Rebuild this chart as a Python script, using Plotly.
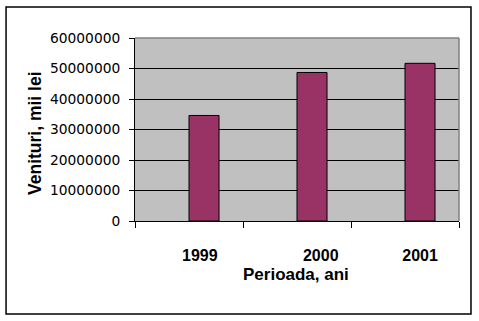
import plotly.graph_objects as go

years = ["1999", "2000", "2001"]
venituri = [34600000, 48700000, 51700000]
y_ticks = [0, 10000000, 20000000, 30000000, 40000000, 50000000, 60000000]

x_pos = list(range(len(years)))
label_shift = [0.10, 0.22, 0.14]
label_pos = [p + s for p, s in zip(x_pos, label_shift)]
boundaries = [p - 0.5 for p in x_pos] + [x_pos[-1] + 0.5]

title_font = dict(family="Liberation Sans", size=17, weight="bold", color="black")

fig = go.Figure()
fig.add_trace(go.Bar(
    x=x_pos, y=venituri, width=0.278, offset=0,
    marker=dict(color="#993366", line=dict(color="black", width=1)),
))

fig.update_layout(
    width=479, height=321,
    margin=dict(l=135, r=20, t=38, b=100),
    paper_bgcolor="white", plot_bgcolor="#C0C0C0",
    showlegend=False,
    font=dict(family="DejaVu Sans", color="black"),
    xaxis=dict(
        range=[-0.5, 2.5], tickmode="array", tickvals=label_pos, ticktext=years,
        ticks="", showgrid=False, showline=True, linecolor="black", linewidth=1,
        tickfont=dict(family="Liberation Sans", size=16, weight="bold"),
        ticklabelstandoff=20,
        minor=dict(tickmode="array", tickvals=boundaries, ticks="outside",
                   ticklen=6, tickcolor="black", tickwidth=1, showgrid=False),
        zeroline=False,
    ),
    yaxis=dict(
        range=[0, 60000000], tickmode="array", tickvals=y_ticks,
        ticktext=[str(v) for v in y_ticks],
        ticks="outside", ticklen=5, tickcolor="black",
        showgrid=True, gridcolor="black", gridwidth=1,
        showline=True, linecolor="black", linewidth=1, zeroline=False,
        tickfont=dict(family="DejaVu Sans", size=13.8),
        ticklabelstandoff=6,
    ),
    annotations=[
        dict(text="Perioada, ani", xref="paper", yref="paper", x=0.498, y=-0.292,
             xanchor="center", yanchor="middle", showarrow=False, font=title_font),
        dict(text="Venituri, mii lei", xref="paper", yref="paper", x=-0.3086, y=0.481,
             xanchor="center", yanchor="middle", showarrow=False, textangle=-90,
             font=dict(title_font, size=17.5)),
    ],
    shapes=[
        dict(type="line", xref="paper", yref="paper", x0=0, x1=1, y0=1, y1=1,
             line=dict(color="#808080", width=1.5), layer="above"),
        dict(type="line", xref="paper", yref="paper", x0=1, x1=1, y0=0, y1=1,
             line=dict(color="#808080", width=1.5), layer="above"),
        dict(type="rect", xref="paper", yref="paper",
             x0=-0.398, x1=1.037, y0=-0.508, y1=1.169,
             line=dict(color="black", width=1.5), layer="above"),
    ],
)

fig.write_html("out.html", config={"displayModeBar": False},
               post_script="document.body.style.margin='0';document.body.style.overflow='hidden';")
